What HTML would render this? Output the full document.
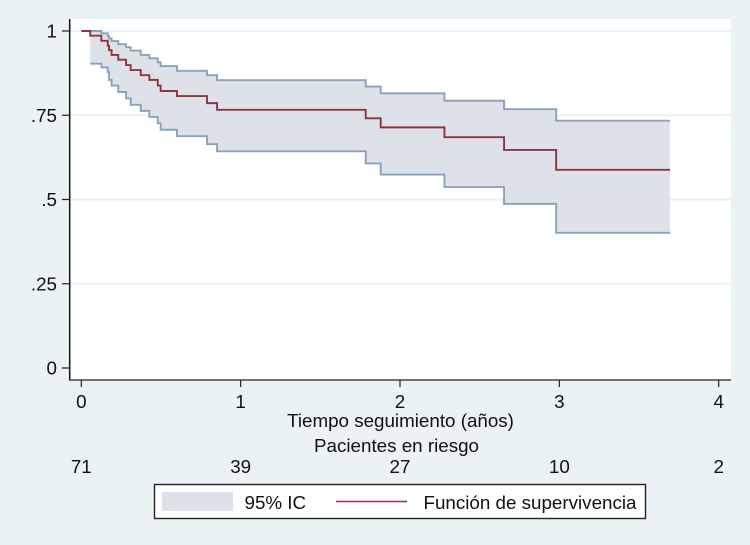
<!DOCTYPE html>
<html lang="es">
<head>
<meta charset="utf-8">
<title>Función de supervivencia</title>
<style>
html,body{margin:0;padding:0;background:#eaf2f3;}
body{width:750px;height:545px;overflow:hidden;}
svg{display:block;filter:blur(0.35px);}
text{font-family:"Liberation Sans",sans-serif;font-size:18.8px;fill:#111;}
</style>
</head>
<body>
<svg id="chart" xmlns="http://www.w3.org/2000/svg" width="750" height="545" viewBox="0 0 750 545">
  <rect x="0" y="0" width="750" height="545" fill="#eaf2f3"/>
  <rect x="70" y="19" width="661" height="361" fill="#ffffff"/>
  <g id="grid"></g>
  <g id="series"></g>
  <g id="axes"></g>
  <text x="400.5" y="427" text-anchor="middle">Tiempo seguimiento (años)</text>
  <text x="396.5" y="452" text-anchor="middle">Pacientes en riesgo</text>
  <g id="risk"></g>
  <g>
    <rect x="154.5" y="484.5" width="491" height="34" fill="#ffffff" stroke="#222" stroke-width="1.4"/>
    <rect x="162" y="492" width="71" height="19" fill="#dde2e8"/>
    <text x="244.5" y="509">95% IC</text>
    <line x1="336" y1="501.5" x2="407" y2="501.5" stroke="#90353b" stroke-width="1.5"/>
    <text x="423.5" y="509">Función de supervivencia</text>
  </g>
</svg>
<script>
// Chart data
const xTicks = [0, 1, 2, 3, 4];
const yTicks = [0, 0.25, 0.5, 0.75, 1];
const yTickLabels = ['0', '.25', '.5', '.75', '1'];
const atRisk = [71, 39, 27, 10, 2];
const stepTimes = [0, 0.056, 0.126, 0.166, 0.174, 0.19, 0.232, 0.281, 0.31, 0.373, 0.427, 0.48, 0.498, 0.6, 0.789, 0.852, 1.785, 1.879, 2.279, 2.653, 2.98];
const survival = [1, 0.986, 0.971, 0.956, 0.943, 0.929, 0.915, 0.899, 0.884, 0.869, 0.855, 0.838, 0.822, 0.807, 0.786, 0.766, 0.741, 0.714, 0.685, 0.647, 0.588];
const upperCI = [1, 1, 0.993, 0.985, 0.978, 0.97, 0.961, 0.952, 0.942, 0.929, 0.919, 0.907, 0.896, 0.882, 0.869, 0.854, 0.835, 0.815, 0.793, 0.768, 0.734];
const lowerCI = [1, 0.903, 0.892, 0.878, 0.855, 0.838, 0.819, 0.8, 0.781, 0.763, 0.745, 0.726, 0.707, 0.688, 0.664, 0.643, 0.607, 0.574, 0.537, 0.487, 0.401];
const endTime = 3.695;

const SVG_NS = 'http://www.w3.org/2000/svg';
function sx(t) { return 81.3 + t * 159.35; }
function sy(v) { return 368 - v * 337; }
function make(tag, attrs, parent) {
  const el = document.createElementNS(SVG_NS, tag);
  for (const k in attrs) el.setAttribute(k, attrs[k]);
  parent.appendChild(el);
  return el;
}
function stepPoints(times, values, end) {
  const pts = [];
  for (let i = 0; i < times.length; i++) {
    if (i > 0) pts.push([sx(times[i]), sy(values[i - 1])]);
    pts.push([sx(times[i]), sy(values[i])]);
  }
  pts.push([sx(end), sy(values[values.length - 1])]);
  return pts;
}
function pathOf(pts) {
  return 'M' + pts.map(p => p[0].toFixed(2) + ' ' + p[1].toFixed(2)).join('L');
}

const grid = document.getElementById('grid');
const series = document.getElementById('series');
const axes = document.getElementById('axes');
const risk = document.getElementById('risk');

yTicks.forEach((v) => {
  if (v === 0) return;
  const g = make('line', {x1: 70, x2: 731, y1: sy(v), y2: sy(v), stroke: '#e6eff1', 'stroke-width': 1.8}, grid);
  
  
});

// Confidence band begins where the first event occurs
const bandTimes = stepTimes.slice(1);
const upPts = stepPoints(bandTimes, upperCI.slice(1), endTime);
const lowPts = stepPoints(bandTimes, lowerCI.slice(1), endTime);
const band = make('path', {d: pathOf(upPts.concat(lowPts.slice().reverse())) + 'Z', fill: '#dde2e8', stroke: 'none'}, series);


const upLine = make('path', {d: pathOf(upPts), fill: 'none', stroke: '#8ba2b9', 'stroke-width': 1.9}, series);


const lowLine = make('path', {d: pathOf(lowPts), fill: 'none', stroke: '#8ba2b9', 'stroke-width': 1.9}, series);


const survLine = make('path', {d: pathOf(stepPoints(stepTimes, survival, endTime)), fill: 'none', stroke: '#90353b', 'stroke-width': 1.9}, series);



const yAxis = make('line', {x1: 69.7, x2: 69.7, y1: 19, y2: 380.5, stroke: '#111', 'stroke-width': 1.5}, axes);


const xAxis = make('line', {x1: 69, x2: 731, y1: 380, y2: 380, stroke: '#444', 'stroke-width': 1.6}, axes);



yTicks.forEach((v, i) => {
  const tick = make('line', {x1: 62, x2: 69.7, y1: sy(v), y2: sy(v), stroke: '#222', 'stroke-width': 1.2}, axes);
  
  
  const label = make('text', {x: 57, y: sy(v) + 6.5, 'text-anchor': 'end'}, axes);
  
  
  label.textContent = yTickLabels[i];
});

xTicks.forEach((t, i) => {
  const tick = make('line', {x1: sx(t), x2: sx(t), y1: 380, y2: 387, stroke: '#222', 'stroke-width': 1.2}, axes);
  
  
  const label = make('text', {x: sx(t), y: 408, 'text-anchor': 'middle'}, axes);
  
  
  label.textContent = String(t);
  const count = make('text', {x: sx(t), y: 473, 'text-anchor': 'middle'}, risk);
  
  
  count.textContent = String(atRisk[i]);
});
</script>
</body>
</html>
